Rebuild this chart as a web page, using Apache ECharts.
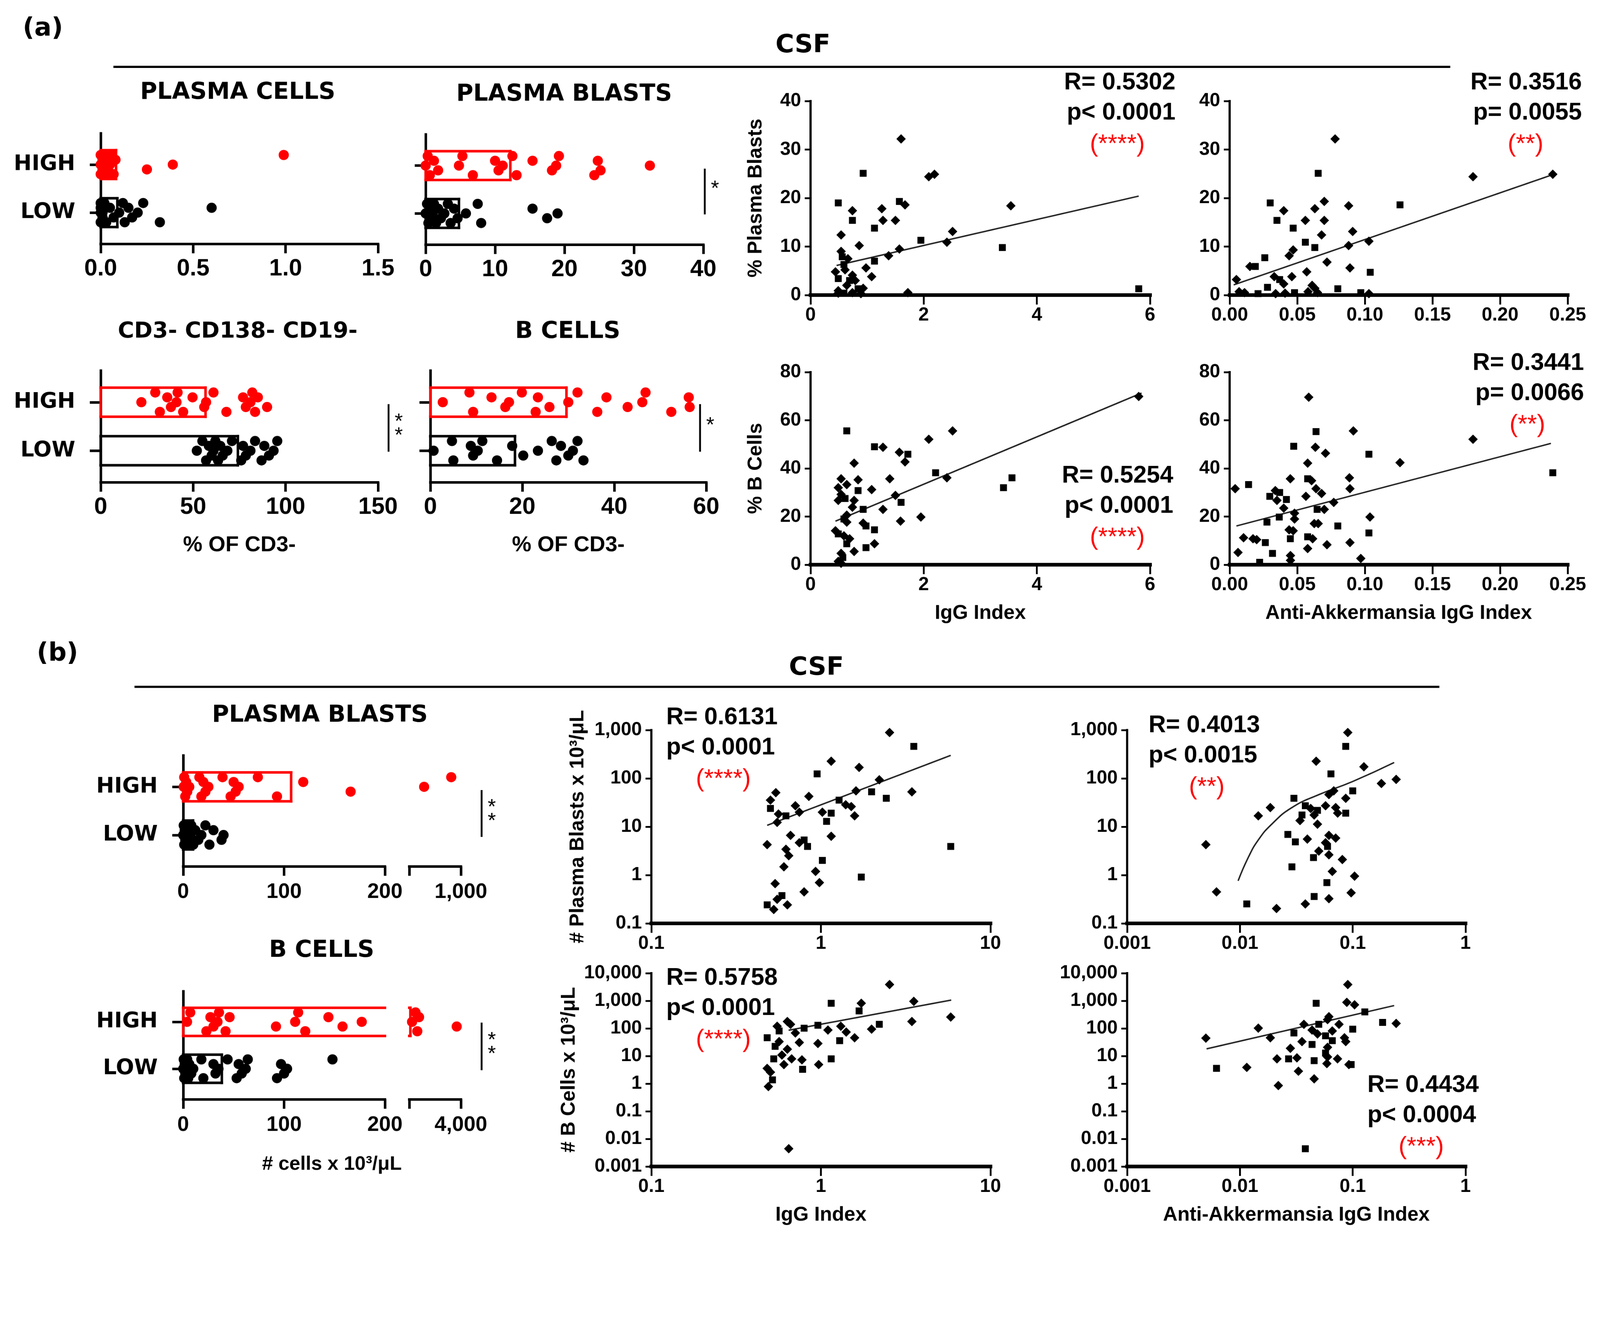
<!DOCTYPE html>
<html>
<head>
<meta charset="utf-8">
<script src="https://cdn.jsdelivr.net/npm/echarts@6/dist/echarts.min.js"></script>
<style>
  html, body { margin: 0; padding: 0; background: #fff; overflow: hidden; }
  #main { width: 4402px; height: 3426px; transform-origin: 0 0; }
</style>
</head>
<body>
<div id="main"></div>
<script>
// ---------- (a) % of CD3- : dot plots (values per patient), means as [LOW, HIGH]
const pcHigh = [0, 0, 0, 0.01, 0.01, 0.02, 0.02, 0.03, 0.03, 0.04, 0.05, 0.06, 0.07, 0.08, 0.25, 0.39, 0.99];
const pcLow = [0, 0, 0, 0, 0.01, 0.01, 0.02, 0.03, 0.05, 0.07, 0.1, 0.12, 0.13, 0.15, 0.17, 0.2, 0.23, 0.32, 0.6];
const pcMean = [0.09, 0.083];
const pbHigh = [0, 0.3, 0.6, 1.2, 1.8, 4.8, 5.3, 6.8, 10.0, 10.5, 11.1, 12.5, 13.1, 15.4, 18.2, 18.8, 19.2, 24.3, 24.8, 25.2, 32.3];
const pbLow = [0, 0.2, 0.4, 0.6, 0.8, 1.0, 1.2, 1.5, 1.8, 2.2, 2.7, 3.2, 3.6, 4.1, 4.6, 5.8, 7.5, 8.0, 15.4, 17.5, 19.0];
const pbMean = [4.8, 12.2];
const dnHigh = [22, 29.5, 32, 36, 38, 41, 41.6, 44.6, 49.7, 56, 57, 61, 68, 77, 78.5, 81, 82, 83.5, 85, 90];
const dnLow = [52, 55, 57, 58.5, 60, 61, 62, 63.5, 64.7, 66, 68.5, 71, 76, 77, 78.5, 81, 83.5, 87, 88.5, 91, 93.5, 95.5];
const dnMean = [74.2, 56.7];
const bcHigh = [2.7, 8.5, 9.3, 13.3, 16.3, 17.1, 19.9, 22.9, 23.4, 25.9, 30, 32, 36.3, 38.3, 42.9, 46.1, 46.8, 52.4, 56.2, 56.4];
const bcLow = [0.7, 4.7, 5.0, 8.8, 9.3, 10.3, 11.3, 14.5, 17.8, 20.2, 23.4, 26.4, 27.4, 28.4, 30, 31, 32, 33.3];
const bcMean = [18.4, 29.6];

// ---------- (b) # cells x 10^3/uL, broken axes
const pbCntHigh = [0.5, 1, 2, 3, 4, 6, 16, 18, 20, 22, 25, 39, 47, 50, 52, 55, 74, 93, 119, 166, 430, 850];
const pbCntLow = [0, 0.5, 1, 1.5, 2, 2.5, 3, 4, 5, 6, 7, 8, 10, 12, 15, 18, 22, 26, 30, 38, 40];
const pbCntMean = [9.7, 107];
const bcCntHigh = [3.8, 7, 23, 27, 30, 34, 35.5, 42, 46, 92, 111, 114, 121, 144, 158, 177, 405, 662, 790, 918, 3692];
const bcCntLow = [0, 0.5, 1, 1.5, 2, 3, 4, 5, 6, 8, 10, 18, 20, 30, 32, 35, 44, 53, 55, 58, 62, 64, 93, 97, 100, 103, 148];
const bcCntMean = [38.3, 280];

// ---------- (a) correlations [x, y]
const pbIgg = [[1.60,32.2],[0.93,25.1],[2.09,24.4],[2.19,24.9],[0.49,19.0],[0.74,17.4],[1.26,17.8],[1.57,19.3],[1.67,18.6],[3.54,18.4],[0.74,15.4],[1.28,15.4],[1.50,15.4],[1.13,13.8],[0.54,12.4],[2.51,13.1],[1.95,11.3],[2.41,10.9],[0.86,10.2],[3.39,9.8],[1.57,9.5],[0.54,9.0],[0.56,7.9],[0.66,7.5],[1.38,8.1],[1.13,7.0],[0.98,5.6],[0.44,4.8],[0.59,6.3],[0.74,4.1],[1.08,3.8],[0.49,3.4],[0.79,3.0],[0.64,2.0],[0.84,1.3],[0.49,0.9],[0.93,1.4],[0.59,0.4],[0.74,0.5],[1.72,0.5],[5.80,1.3],[0.49,0.4],[0.89,0.3],[0.69,3.0],[0.61,5.2]];
const pbAkk = [[0.078,32.2],[0.0655,25.1],[0.180,24.4],[0.239,24.9],[0.030,19.0],[0.070,19.3],[0.088,18.4],[0.126,18.6],[0.040,17.4],[0.063,17.8],[0.035,15.4],[0.056,15.4],[0.070,15.4],[0.047,13.8],[0.091,13.1],[0.068,12.4],[0.056,10.9],[0.103,11.1],[0.088,10.2],[0.063,9.8],[0.047,9.3],[0.044,8.1],[0.026,7.7],[0.072,6.8],[0.015,5.9],[0.019,5.9],[0.089,5.6],[0.057,4.8],[0.104,4.7],[0.033,3.8],[0.046,3.8],[0.037,3.2],[0.005,3.2],[0.040,2.3],[0.028,1.6],[0.061,2.0],[0.063,1.4],[0.080,1.3],[0.007,0.7],[0.011,0.5],[0.021,0.3],[0.034,0.3],[0.041,0.4],[0.048,0.5],[0.058,0.7],[0.065,0.5],[0.097,0.5],[0.103,0.3]];
const bcIgg = [[5.80,69.9],[0.64,55.6],[2.51,55.6],[2.09,52.1],[1.13,49.0],[1.28,48.8],[1.57,46.7],[1.72,45.9],[1.67,42.7],[0.77,42.2],[2.21,38.2],[1.40,35.7],[2.41,36.1],[3.56,36.1],[0.54,35.7],[0.84,35.3],[3.41,32.0],[0.49,32.0],[0.64,33.3],[0.84,30.8],[1.08,31.2],[0.54,29.2],[0.61,27.5],[0.77,26.7],[1.50,28.8],[1.60,25.9],[0.49,26.7],[1.28,23.0],[0.93,23.0],[0.74,23.9],[0.64,20.6],[0.59,19.0],[1.95,19.8],[0.93,17.3],[0.98,16.1],[0.64,17.7],[1.59,18.1],[1.13,14.5],[0.44,14.1],[0.59,12.0],[0.49,12.8],[0.69,10.8],[1.13,8.7],[0.98,7.1],[0.77,5.5],[0.54,4.7],[0.57,3.0],[0.49,1.4],[0.54,0.6],[0.64,8.7]];
const bcAkk = [[0.0585,69.6],[0.0639,55.3],[0.0915,55.6],[0.180,52.1],[0.0474,49.2],[0.0634,48.8],[0.0709,46.3],[0.103,45.9],[0.126,42.4],[0.0577,42.2],[0.239,38.2],[0.0886,36.1],[0.0449,35.7],[0.0577,35.7],[0.0606,34.9],[0.0041,31.6],[0.014,33.3],[0.089,31.6],[0.0338,30.8],[0.037,30.0],[0.0639,31.6],[0.068,29.6],[0.0297,28.4],[0.0564,28.4],[0.035,26.7],[0.042,27.1],[0.077,25.9],[0.040,23.5],[0.0647,23.0],[0.070,23.0],[0.048,21.4],[0.0367,19.8],[0.048,19.0],[0.1038,19.8],[0.0276,17.7],[0.0626,17.1],[0.0655,17.1],[0.080,16.1],[0.044,14.5],[0.047,14.1],[0.103,13.2],[0.0103,11.2],[0.0173,10.8],[0.0577,11.6],[0.0614,10.8],[0.020,10.4],[0.0264,9.2],[0.089,9.2],[0.072,8.3],[0.0449,10.8],[0.0577,6.7],[0.0062,5.1],[0.0317,4.7],[0.045,3.8],[0.097,2.6],[0.0222,1.0],[0.045,1.8]];
const fitPbIgg = [[0.46, 6.1], [5.8, 20.4]];
const fitPbAkk = [[0.003, 2.1], [0.2397, 24.9]];
const fitBcIgg = [[0.44, 18.1], [5.85, 71.3]];
const fitBcAkk = [[0.005, 16.1], [0.2376, 50.4]];

// ---------- (b) correlations, log-log
const pbIggLog = [[2.54,891],[3.53,460],[1.15,227],[1.68,169],[0.95,124],[2.21,93.7],[1.61,55.2],[1.99,52.8],[3.44,52.8],[0.542,50.6],[2.43,38.8],[0.849,42.4],[0.504,35.5],[1.28,35.5],[1.40,28.5],[0.707,27.2],[0.504,23.9],[1.51,26.1],[1.02,20.0],[1.15,19.1],[0.746,20.0],[0.562,18.3],[0.622,16.8],[1.58,16.8],[0.552,12.3],[1.08,12.9],[0.662,6.64],[1.15,6.35],[0.796,5.32],[0.482,4.27],[0.746,4.66],[0.834,3.91],[0.622,3.42],[0.646,2.51],[1.02,2.01],[0.605,1.48],[0.93,1.19],[1.73,0.91],[0.537,0.667],[0.98,0.698],[0.589,0.376],[0.796,0.449],[0.552,0.315],[0.482,0.242],[0.634,0.242],[0.527,0.194],[5.83,3.91]];
const pbAkkLog = [[0.0904,891],[0.0867,460],[0.0474,227],[0.1256,174],[0.0641,124],[0.1795,78.6],[0.2427,95.5],[0.1,55.2],[0.0679,55.2],[0.0615,46.2],[0.0301,38.8],[0.0867,38.8],[0.0186,24.9],[0.038,27.2],[0.0424,23.9],[0.0574,27.2],[0.0487,21.8],[0.0706,24.9],[0.01455,16.8],[0.0355,17.5],[0.0455,17.5],[0.0735,19.1],[0.0867,19.1],[0.0341,13.4],[0.0487,11.3],[0.0266,6.93],[0.0615,6.64],[0.0706,5.81],[0.031,4.86],[0.0396,5.56],[0.0574,4.66],[0.0598,3.91],[0.05,3.13],[0.0615,2.62],[0.0449,2.30],[0.0809,2.10],[0.00499,4.27],[0.0289,1.48],[0.0659,1.19],[0.1038,0.95],[0.059,0.698],[0.0062,0.449],[0.0968,0.43],[0.0455,0.36],[0.0615,0.324],[0.038,0.253],[0.0115,0.253],[0.0211,0.203]];
const bcIggLog = [[2.54,3883],[1.15,813],[1.73,813],[3.53,955],[1.68,430],[5.83,258],[3.44,178],[2.21,141],[0.634,178],[0.662,141],[0.96,130],[1.31,120],[0.552,120],[0.796,102],[1.1,87],[1.99,94],[0.567,81],[0.707,68.5],[1.41,74],[0.482,46],[0.567,33.4],[1.58,46],[1.29,36],[0.746,30.9],[0.96,28.5],[0.537,22.4],[0.634,17.7],[0.589,10.9],[0.527,7.9],[0.672,7.9],[0.773,7.3],[1.15,7.9],[0.605,4.92],[0.97,4.92],[0.78,3.31],[0.482,3.58],[0.504,2.6],[0.518,1.37],[0.49,0.785],[0.646,0.0044]];
const bcAkkLog = [[0.0904,3883],[0.0474,813],[0.0886,880],[0.1038,714],[0.128,396],[0.0615,266],[0.0598,209],[0.184,165],[0.2427,152],[0.0369,141],[0.05,141],[0.0756,141],[0.01455,102],[0.1,94],[0.0436,87],[0.0659,81],[0.0301,68.5],[0.0487,63],[0.0186,46],[0.0574,54],[0.0845,46],[0.0355,33.4],[0.0659,36],[0.0867,33.4],[0.00499,44.6],[0.0436,26.3],[0.0598,20.7],[0.028,19.1],[0.0574,12.8],[0.0598,9.3],[0.0213,7.9],[0.027,7.9],[0.032,8.6],[0.0733,7.9],[0.0455,6.8],[0.0925,4.92],[0.059,5.33],[0.0062,3.58],[0.0115,3.87],[0.033,2.82],[0.0968,4.92],[0.0455,1.49],[0.0219,0.85],[0.038,0.0044]];
const fitPbIggLog = [[0.482, 10.7], [5.83, 300]];
const fitPbAkkLog = [[0.00964,0.76],[0.01184,2.30],[0.01455,5.32],[0.01914,11.3],[0.0289,24.9],[0.0501,46.2],[0.0995,85.9],[0.233,213]];
const fitBcIggLog = [[0.645, 86], [5.87, 1060]];
const fitBcAkkLog = [[0.00506, 18.2], [0.233, 671]];

const statsA = [['R= 0.5302', 'p< 0.0001', '(****)'], ['R= 0.3516', 'p= 0.0055', '(**)'],
                ['R= 0.5254', 'p< 0.0001', '(****)'], ['R= 0.3441', 'p= 0.0066', '(**)']];
const statsB = [['R= 0.6131', 'p< 0.0001', '(****)'], ['R= 0.4013', 'p< 0.0015', '(**)'],
                ['R= 0.5758', 'p< 0.0001', '(****)'], ['R= 0.4434', 'p< 0.0004', '(***)']];

// ---------- styling / helpers
const RED = '#ff0000';
const BLACK = '#000000';
const FONT = "'Liberation Sans', Arial, Helvetica, sans-serif";
const WIDE = "'DejaVu Sans', Verdana, 'Liberation Sans', sans-serif";
const NARROW = "'Liberation Sans Narrow', 'Arial Narrow', 'Liberation Sans', Arial, sans-serif";
const JIT = [0, 0.2, -0.2, 0.1, -0.1];

const grids = [], xAxes = [], yAxes = [], series = [], graphics = [];

function addPanel(rect, xa, ya) {
    let i = grids.length;
    grids.push(Object.assign({ containLabel: false, outerBoundsMode: 'none' }, rect));
    xAxes.push(Object.assign({ gridIndex: i }, xa));
    yAxes.push(Object.assign({ gridIndex: i }, ya));
    return i;
}
function axLine(w, show) {
    return { show: show !== false, onZero: false, lineStyle: { color: BLACK, width: w, cap: 'square' } };
}
function axTick(len, w, extra) {
    return Object.assign({ show: true, inside: false, length: len, lineStyle: { color: BLACK, width: w } }, extra);
}
function axLabel(size, margin, extra) {
    return Object.assign({ show: true, color: BLACK, fontFamily: FONT, fontWeight: 'bold', fontSize: size, margin: margin }, extra);
}
const nameStyle = { color: BLACK, fontFamily: FONT, fontWeight: 'bold', fontSize: 55 };

// rows: LOW = 0, HIGH = 1 ; mode: 'labels' | 'ticks' | 'none'
function rowAxis(mode) {
    let show = mode !== 'none';
    return {
        type: 'value', min: -0.65, max: 1.65, splitLine: { show: false },
        axisLine: axLine(7, show),
        axisTick: show ? axTick(30, 7, { customValues: [0, 1] }) : { show: false },
        axisLabel: mode === 'labels'
            ? axLabel(59, 70, { fontFamily: WIDE, customValues: [0, 1], formatter: v => (v === 1 ? 'HIGH' : 'LOW') })
            : { show: false }
    };
}
function dotX(min, max, interval, digits, name, margin) {
    return {
        type: 'value', min: min, max: max, interval: interval, splitLine: { show: false },
        axisLine: axLine(7), axisTick: axTick(26, 7),
        axisLabel: axLabel(65, margin || 37, { formatter: v => v.toFixed(digits) }),
        name: name || '', nameLocation: 'middle', nameGap: 143,
        nameTextStyle: Object.assign({}, nameStyle, { fontSize: 60 })
    };
}
function boxSeries(i, mean, row, color, xmin, xmax) {
    return {
        type: 'custom', xAxisIndex: i, yAxisIndex: i, z: 2, silent: true,
        data: [[mean, row]],
        renderItem: function (params, api) {
            let m = api.value(0), r = api.value(1);
            let a = Math.max(0, xmin), b = Math.min(m, xmax);
            if (b <= a) return null;
            let tl = api.coord([a, r + 0.3]), tr = api.coord([b, r + 0.3]);
            let bl = api.coord([a, r - 0.3]), br = api.coord([b, r - 0.3]);
            let st = { stroke: color, lineWidth: 7, lineCap: 'square' };
            let kids = [
                { type: 'line', shape: { x1: tl[0], y1: tl[1], x2: tr[0], y2: tr[1] }, style: st },
                { type: 'line', shape: { x1: bl[0], y1: bl[1], x2: br[0], y2: br[1] }, style: st }
            ];
            if (xmin <= 0) kids.push({ type: 'line', shape: { x1: tl[0], y1: tl[1], x2: bl[0], y2: bl[1] }, style: st });
            if (m <= xmax) kids.push({ type: 'line', shape: { x1: tr[0], y1: tr[1], x2: br[0], y2: br[1] }, style: st });
            return { type: 'group', children: kids };
        }
    };
}
function dotSeries(i, vals, row, color) {
    return {
        type: 'scatter', xAxisIndex: i, yAxisIndex: i, z: 3, symbol: 'circle', symbolSize: 28,
        itemStyle: { color: color, opacity: 1 },
        data: vals.map((v, k) => [v, row + JIT[k % JIT.length]])
    };
}
function dotPanel(rect, xa, mode, high, low, means) {
    let i = addPanel(rect, xa, rowAxis(mode));
    series.push(boxSeries(i, means[1], 1, RED, xa.min, xa.max));
    series.push(boxSeries(i, means[0], 0, BLACK, xa.min, xa.max));
    series.push(dotSeries(i, high, 1, RED));
    series.push(dotSeries(i, low, 0, BLACK));
}
// broken axis: two grids side by side, second one with its own range
function brokenPanel(rect1, rect2, topVal, high, low, means) {
    let xa1 = dotX(0, 200, 100, 0, '', 42);
    xa1.axisLabel.fontSize = 58;
    let i = addPanel(rect1, xa1, rowAxis('labels'));
    let xa2 = {
        type: 'value', min: 200, max: topVal, splitLine: { show: false },
        axisLine: axLine(7), axisTick: axTick(26, 7, { customValues: [200, topVal] }),
        axisLabel: axLabel(58, 42, { customValues: [topVal], formatter: v => v.toLocaleString('en-US') })
    };
    let j = addPanel(rect2, xa2, rowAxis('none'));
    [[i, 0, 200], [j, 200, topVal]].forEach(function (g) {
        series.push(boxSeries(g[0], means[1], 1, RED, g[1], g[2]));
        series.push(boxSeries(g[0], means[0], 0, BLACK, g[1], g[2]));
    });
    series.push(dotSeries(i, high.filter(v => v <= 200), 1, RED));
    series.push(dotSeries(i, low.filter(v => v <= 200), 0, BLACK));
    series.push(dotSeries(j, high.filter(v => v > 200), 1, RED));
    series.push(dotSeries(j, low.filter(v => v > 200), 0, BLACK));
}

function fmtLog(v) {
    let n = Number(Number(v).toPrecision(1));
    return n >= 1000 ? n.toLocaleString('en-US') : String(n);
}
function scX(type, min, max, interval, digits, name) {
    let ax = {
        type: type, min: min, max: max, splitLine: { show: false }, minorTick: { show: false },
        axisLine: axLine(10), axisTick: axTick(26, 5),
        axisLabel: axLabel(52, 30, { fontFamily: NARROW, formatter: type === 'log' ? fmtLog : (v => v.toFixed(digits)) }),
        name: name || '', nameLocation: 'middle', nameGap: 106, nameTextStyle: nameStyle
    };
    if (type === 'log') { ax.logBase = 10; ax.splitNumber = 10; } else { ax.interval = interval; }
    return ax;
}
function scY(type, min, max, interval, name, gap) {
    let ax = {
        type: type, min: min, max: max, splitLine: { show: false }, minorTick: { show: false },
        axisLine: axLine(6), axisTick: axTick(16, 5),
        axisLabel: axLabel(52, 26, { fontFamily: NARROW, formatter: type === 'log' ? fmtLog : (v => String(v)) }),
        name: name || '', nameLocation: 'middle', nameRotate: 90, nameGap: gap || 123, nameTextStyle: nameStyle
    };
    if (type === 'log') { ax.logBase = 10; ax.splitNumber = 10; } else { ax.interval = interval; }
    return ax;
}
function scatterPanel(rect, xa, ya, pts, fit, smooth) {
    let i = addPanel(rect, xa, ya);
    series.push({
        type: 'line', xAxisIndex: i, yAxisIndex: i, z: 2, silent: true, data: fit,
        symbol: 'none', smooth: !!smooth, lineStyle: { color: '#222', width: 4 }
    });
    series.push({
        type: 'scatter', xAxisIndex: i, yAxisIndex: i, z: 3, data: pts,
        symbol: (v, p) => (p.dataIndex % 3 === 1 ? 'rect' : 'diamond'),
        symbolSize: (v, p) => (p.dataIndex % 3 === 1 ? 19 : 26),
        itemStyle: { color: BLACK, opacity: 1 }
    });
}

function txt(x, y, s, size, extra) {
    graphics.push({
        type: 'text', x: x, y: y, silent: true,
        style: Object.assign({
            text: s, fill: BLACK, fontFamily: FONT, fontWeight: 'bold', fontSize: size,
            align: 'center', verticalAlign: 'middle', textAlign: 'center', textVerticalAlign: 'middle'
        }, extra)
    });
}
function title(x, y, s, size) {
    txt(x, y, s, size, { fontFamily: WIDE });
}
function seg(x1, y1, x2, y2, w) {
    graphics.push({ type: 'line', silent: true, shape: { x1: x1, y1: y1, x2: x2, y2: y2 }, style: { stroke: BLACK, lineWidth: w } });
}
function stats(s, x, y, align, starX) {
    txt(x, y, s[0], 66, { align: align, textAlign: align });
    txt(x, y + 83, s[1], 66, { align: align, textAlign: align });
    txt(starX, y + 170, s[2], 68, { fill: RED, fontWeight: 'normal' });
}
function signif(x, y1, y2, stars) {
    seg(x, y1, x, y2, 5);
    let mid = (y1 + y2) / 2;
    if (stars === 1) txt(x + 28, mid - 6, '*', 58, { fontWeight: 'normal' });
    else { txt(x + 28, mid - 16, '*', 58, { fontWeight: 'normal' }); txt(x + 28, mid + 22, '*', 58, { fontWeight: 'normal' }); }
}

// ---------- panel (a)
dotPanel({ left: 277, top: 367, width: 763, height: 304 }, dotX(0, 1.5, 0.5, 1), 'labels', pcHigh, pcLow, pcMean);
dotPanel({ left: 1171, top: 370, width: 764, height: 303 }, dotX(0, 40, 10, 0), 'ticks', pbHigh, pbLow, pbMean);
dotPanel({ left: 277, top: 1020, width: 763, height: 307 }, dotX(0, 150, 50, 0, '% OF CD3-'), 'labels', dnHigh, dnLow, dnMean);
dotPanel({ left: 1184, top: 1020, width: 759, height: 307 }, dotX(0, 60, 20, 0, '% OF CD3-'), 'ticks', bcHigh, bcLow, bcMean);

scatterPanel({ left: 2230, top: 278, width: 934, height: 534 }, scX('value', 0, 6, 2, 0), scY('value', 0, 40, 10, '% Plasma Blasts'), pbIgg, fitPbIgg);
scatterPanel({ left: 3383, top: 278, width: 930, height: 534 }, scX('value', 0, 0.25, 0.05, 2), scY('value', 0, 40, 10), pbAkk, fitPbAkk);
scatterPanel({ left: 2230, top: 1024, width: 934, height: 530 }, scX('value', 0, 6, 2, 0, 'IgG Index'), scY('value', 0, 80, 20, '% B Cells'), bcIgg, fitBcIgg);
scatterPanel({ left: 3383, top: 1024, width: 930, height: 530 }, scX('value', 0, 0.25, 0.05, 2, 'Anti-Akkermansia IgG Index'), scY('value', 0, 80, 20), bcAkk, fitBcAkk);

// ---------- panel (b)
brokenPanel({ left: 504, top: 2079, width: 555, height: 305 }, { left: 1126, top: 2079, width: 142, height: 305 }, 1000, pbCntHigh, pbCntLow, pbCntMean);
brokenPanel({ left: 504, top: 2728, width: 555, height: 297 }, { left: 1126, top: 2728, width: 142, height: 297 }, 4000, bcCntHigh, bcCntLow, bcCntMean);

scatterPanel({ left: 1792, top: 2009, width: 933, height: 532 }, scX('log', 0.1, 10), scY('log', 0.1, 1000, 0, '# Plasma Blasts x 10³/μL', 175), pbIggLog, fitPbIggLog);
scatterPanel({ left: 3101, top: 2009, width: 931, height: 532 }, scX('log', 0.001, 1), scY('log', 0.1, 1000), pbAkkLog, fitPbAkkLog, true);
scatterPanel({ left: 1792, top: 2678, width: 933, height: 532 }, scX('log', 0.1, 10, 0, 0, 'IgG Index'), scY('log', 0.001, 10000, 0, '# B Cells x 10³/μL', 199), bcIggLog, fitBcIggLog);
scatterPanel({ left: 3101, top: 2678, width: 931, height: 532 }, scX('log', 0.001, 1, 0, 0, 'Anti-Akkermansia IgG Index'), scY('log', 0.001, 10000), bcAkkLog, fitBcAkkLog);

// ---------- annotations
title(118, 80, '(a)', 70);
title(2209, 126, 'CSF', 70);
seg(312, 184, 3990, 184, 6);
title(654, 255, 'PLASMA CELLS', 64);
title(1552, 260, 'PLASMA BLASTS', 64);
title(654, 913, 'CD3- CD138- CD19-', 61);
title(1562, 913, 'B CELLS', 64);
signif(1939, 464, 590, 1);
signif(1069, 1112, 1243, 2);
signif(1926, 1112, 1243, 1);
stats(statsA[0], 3234, 228, 'right', 3074);
stats(statsA[1], 4352, 228, 'right', 4197);
stats(statsA[2], 3228, 1310, 'right', 3074);
stats(statsA[3], 4358, 1000, 'right', 4202);

title(158, 1800, '(b)', 70);
title(2246, 1839, 'CSF', 70);
seg(370, 1890, 3960, 1890, 6);
title(880, 1969, 'PLASMA BLASTS', 64);
title(885, 2616, 'B CELLS', 64);
txt(913, 3204, '# cells x 10³/μL', 54);
signif(1325, 2174, 2303, 2);
signif(1325, 2814, 2945, 2);
stats(statsB[0], 1833, 1975, 'left', 1990);
stats(statsB[1], 3160, 1997, 'left', 3320);
stats(statsB[2], 1833, 2692, 'left', 1990);
stats(statsB[3], 3762, 2987, 'left', 3910);

var chartDom = document.getElementById('main');
// fit the 4402 x 3426 drawing into the viewport (device pixel ratio may differ from 1)
var fit = Math.min(window.innerWidth / 4402, window.innerHeight / 3426);
if (fit > 0 && Math.abs(fit - 1) > 0.001) chartDom.style.transform = 'scale(' + fit + ')';
var myChart = echarts.init(chartDom, null, { renderer: 'canvas', devicePixelRatio: Math.max(1, window.devicePixelRatio || 1) });
var option = {
    animation: false,
    backgroundColor: '#ffffff',
    textStyle: { fontFamily: FONT },
    grid: grids,
    xAxis: xAxes,
    yAxis: yAxes,
    series: series,
    graphic: { elements: graphics }
};
option && myChart.setOption(option);
</script>
</body>
</html>
